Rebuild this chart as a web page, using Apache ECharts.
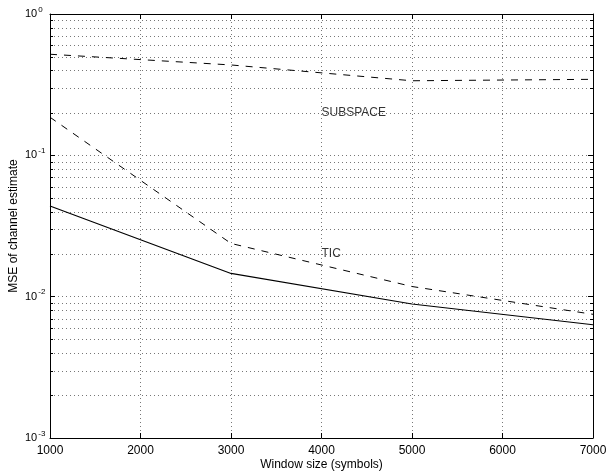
<!DOCTYPE html>
<html>
<head>
<meta charset="utf-8">
<script src="https://cdn.jsdelivr.net/npm/echarts@6/dist/echarts.min.js"></script>
<style>
html,body{margin:0;padding:0;background:#fff;}
#chart{width:607px;height:472px;}
</style>
</head>
<body>
<div id="chart"></div>
<script>
// ---- data ----
const windowSizes = [1000, 3000, 5000, 7000];
const subspaceMSE = [0.519, 0.436, 0.337, 0.345];
const ticMSE      = [0.186, 0.0238, 0.0118, 0.0075];
const solidMSE    = [0.0438, 0.0146, 0.00887, 0.00633];
const xTicks = [1000, 2000, 3000, 4000, 5000, 6000, 7000];
const xMin = 1000, xMax = 7000, xStep = 1000;
const yMin = 0.001, yMax = 1;
const minorYValues = [2,3,4,5,6,7,8,9].flatMap(m => [0.001, 0.01, 0.1].map(d => +(m * d).toPrecision(3)));
const annotations = [[4000, 0.2, 'SUBSPACE'], [4000, 0.02, 'TIC']];
const xAxisName = 'Window size (symbols)';
const yAxisName = 'MSE of channel estimate';

const FONT = '"Liberation Sans", Arial, Helvetica, sans-serif';
const gridDotted = {color: '#777', width: 1, type: [1, 3]};

function pairs(ys){ return windowSizes.map((x, i) => [x, ys[i]]); }

const chart = echarts.init(document.getElementById('chart'), null, {renderer: 'canvas'});
const option = {
  animation: false,
  backgroundColor: '#fff',
  textStyle: {fontFamily: FONT},
  grid: {left: 50, right: 14, top: 14, bottom: 34, containLabel: false, outerBoundsMode: 'none'},
  xAxis: [{
    type: 'value', position: 'bottom', min: xMin, max: xMax, interval: xStep,
    axisLine: {show: true, onZero: false, lineStyle: {color: '#000', width: 1}},
    axisTick: {show: true, inside: true, length: 5, lineStyle: {color: '#000'}},
    axisLabel: {show: true, color: '#000', fontSize: 12, fontFamily: FONT, margin: 7,
                formatter: v => String(v), showMinLabel: true, showMaxLabel: true, hideOverlap: false},
    splitLine: {show: true, lineStyle: gridDotted},
    name: xAxisName, nameLocation: 'middle', nameGap: 21, nameMoveOverlap: false,
    nameTextStyle: {color: '#000', fontSize: 12, fontFamily: FONT}
  }, {
    type: 'value', position: 'top', min: xMin, max: xMax, interval: xStep,
    axisLine: {show: true, onZero: false, lineStyle: {color: '#000', width: 1}},
    axisTick: {show: true, inside: true, length: 5, lineStyle: {color: '#000'}},
    axisLabel: {show: false}, splitLine: {show: false}
  }],
  yAxis: [{
    type: 'log', logBase: 10, position: 'left', min: yMin, max: yMax, interval: 1,
    axisLine: {show: true, onZero: false, lineStyle: {color: '#000', width: 1}},
    axisTick: {show: true, inside: true, length: 5, lineStyle: {color: '#000'}},
    axisLabel: {
      show: true, margin: 25, align: 'left', color: '#000', showMinLabel: true, showMaxLabel: true,
      formatter: v => '{b|10}{s|' + Math.round(Math.log10(v)) + '}',
      rich: {
        b: {fontSize: 11, fontFamily: FONT, color: '#000', lineHeight: 17, verticalAlign: 'middle'},
        s: {fontSize: 8, fontFamily: FONT, color: '#000', lineHeight: 8, verticalAlign: 'top', padding: [0, 0, 0, 1]}
      }
    },
    splitLine: {show: true, lineStyle: gridDotted},
    name: yAxisName, nameLocation: 'middle', nameGap: 30, nameMoveOverlap: false,
    nameTextStyle: {color: '#000', fontSize: 12, fontFamily: FONT}
  }, {
    type: 'log', logBase: 10, position: 'right', min: yMin, max: yMax, interval: 1,
    axisLine: {show: true, onZero: false, lineStyle: {color: '#000', width: 1}},
    axisTick: {show: true, inside: true, length: 5, lineStyle: {color: '#000'}},
    axisLabel: {show: false}, splitLine: {show: false}
  }],
  series: [
    {
      type: 'custom', name: 'minorGrid', silent: true, z: 1,
      xAxisIndex: 0, yAxisIndex: 0,
      data: minorYValues.map(v => [xMin, v]),
      renderItem: function (params, api) {
        const cs = params.coordSys;
        const y = Math.round(api.coord([xMin, api.value(1)])[1]) + 0.5;
        const l = cs.x, r = cs.x + cs.width;
        return {
          type: 'group',
          children: [
            {type: 'line', shape: {x1: l, y1: y, x2: r, y2: y},
             style: {stroke: '#777', lineWidth: 1, lineDash: [1, 3]}},
            {type: 'line', shape: {x1: l, y1: y, x2: l + 3, y2: y},
             style: {stroke: '#000', lineWidth: 1}},
            {type: 'line', shape: {x1: r - 3, y1: y, x2: r, y2: y},
             style: {stroke: '#000', lineWidth: 1}}
          ]
        };
      },
      clip: false
    },
    {type: 'line', name: 'SUBSPACE', data: pairs(subspaceMSE), showSymbol: false, symbol: 'none', z: 5,
     lineStyle: {color: '#000', width: 1, type: [7, 7]}},
    {type: 'line', name: 'TIC', data: pairs(ticMSE), showSymbol: false, symbol: 'none', z: 5,
     lineStyle: {color: '#000', width: 1, type: [7, 7]}},
    {type: 'line', name: 'solid', data: pairs(solidMSE), showSymbol: false, symbol: 'none', z: 5,
     lineStyle: {color: '#000', width: 1.2, type: 'solid'}},
    {type: 'scatter', name: 'labels', data: annotations, symbolSize: 0, silent: true, z: 6,
     label: {show: true, position: 'right', distance: 0, color: '#000', fontSize: 12, fontFamily: FONT,
             formatter: p => p.value[2]}}
  ]
};
chart.setOption(option);
</script>
</body>
</html>
